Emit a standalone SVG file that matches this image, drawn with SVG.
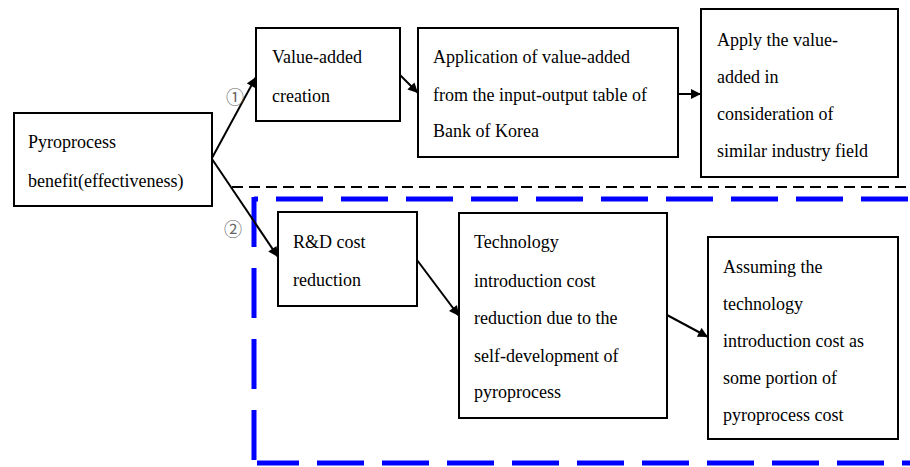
<svg xmlns="http://www.w3.org/2000/svg" width="910" height="467" viewBox="0 0 910 467">
  <style>
    .box { fill: #ffffff; stroke: #000000; stroke-width: 2; }
    .txt { font-family: "Liberation Serif", "Times New Roman", serif; font-size: 18px; fill: #000000; }
    .edge { stroke: #000000; stroke-width: 2; fill: none; marker-end: url(#head); }
    .num { font-family: "Noto Sans CJK KR", "DejaVu Sans", sans-serif; font-size: 18px; fill: #666666; }
    .blue { stroke: #0000ff; stroke-width: 5; fill: none; }
  </style>
  <defs>
    <marker id="head" viewBox="0 0 10 10" refX="10" refY="5" markerWidth="6" markerHeight="5" orient="auto" markerUnits="strokeWidth">
      <path d="M0,0 L10,5 L0,10 z" fill="#000000"/>
    </marker>
  </defs>
  <rect width="910" height="467" fill="#ffffff"/>

  <!-- separators: black divider and blue dashed frame -->
  <g id="separators">
    <line x1="232" y1="187" x2="910" y2="187" stroke="#000000" stroke-width="2" stroke-dasharray="11 6"/>
    <line class="blue" x1="254" y1="199" x2="915" y2="199" stroke-dasharray="47 18" stroke-dashoffset="43"/>
    <line class="blue" x1="254" y1="197" x2="254" y2="466" stroke-dasharray="50 21"/>
    <line class="blue" x1="257" y1="463" x2="915" y2="463" stroke-dasharray="47 18" stroke-dashoffset="5"/>
  </g>

  <!-- connectors -->
  <g id="connectors">
    <line class="edge" x1="212" y1="158" x2="256" y2="77"/>
    <line class="edge" x1="212" y1="159" x2="278" y2="257"/>
    <line class="edge" x1="400" y1="75" x2="418" y2="93"/>
    <line class="edge" x1="678" y1="94" x2="701" y2="94"/>
    <line class="edge" x1="417" y1="260" x2="459" y2="316"/>
    <line class="edge" x1="667" y1="315" x2="708" y2="337"/>
    <text class="num" x="226" y="104">①</text>
    <text class="num" x="224" y="236">②</text>
  </g>

  <g id="pyroprocess">
    <rect class="box" x="14" y="113" width="198" height="93"/>
    <text class="txt" x="28" y="148">Pyroprocess</text>
    <text class="txt" x="28" y="187">benefit(effectiveness)</text>
  </g>

  <g id="value-added">
    <rect class="box" x="256" y="28" width="144" height="93"/>
    <text class="txt" x="272" y="63">Value-added</text>
    <text class="txt" x="272" y="102">creation</text>
  </g>

  <g id="io-table">
    <rect class="box" x="418" y="28" width="260" height="129"/>
    <text class="txt" x="433" y="63">Application of value-added</text>
    <text class="txt" x="433" y="101">from the input-output table of</text>
    <text class="txt" x="433" y="137">Bank of Korea</text>
  </g>

  <g id="similar-industry">
    <rect class="box" x="701" y="9" width="197" height="168"/>
    <text class="txt" x="717" y="46">Apply the value-</text>
    <text class="txt" x="717" y="83">added in</text>
    <text class="txt" x="717" y="120">consideration of</text>
    <text class="txt" x="717" y="157">similar industry field</text>
  </g>

  <g id="rd-cost">
    <rect class="box" x="278" y="212" width="139" height="94"/>
    <text class="txt" x="293" y="248">R&amp;D cost</text>
    <text class="txt" x="293" y="286">reduction</text>
  </g>

  <g id="tech-intro">
    <rect class="box" x="459" y="213" width="208" height="205"/>
    <text class="txt" x="474" y="248">Technology</text>
    <text class="txt" x="474" y="287">introduction cost</text>
    <text class="txt" x="474" y="324">reduction due to the</text>
    <text class="txt" x="474" y="362">self-development of</text>
    <text class="txt" x="474" y="398">pyroprocess</text>
  </g>

  <g id="portion">
    <rect class="box" x="708" y="237" width="190" height="202"/>
    <text class="txt" x="723" y="273">Assuming the</text>
    <text class="txt" x="723" y="310">technology</text>
    <text class="txt" x="723" y="347">introduction cost as</text>
    <text class="txt" x="723" y="384">some portion of</text>
    <text class="txt" x="723" y="421">pyroprocess cost</text>
  </g>
</svg>
